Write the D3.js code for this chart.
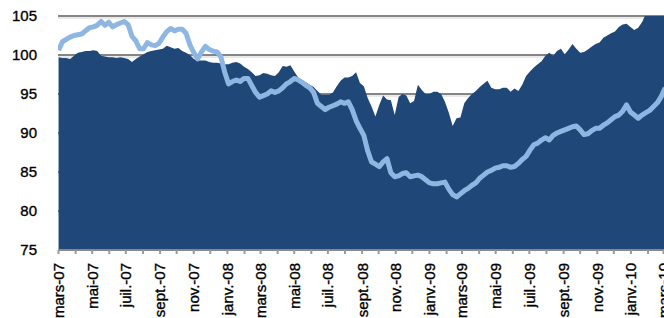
<!DOCTYPE html>
<html>
<head>
<meta charset="utf-8">
<script src="https://cdn.jsdelivr.net/npm/d3@7"></script>
<style>
  body { margin: 0; background: #fff; }
  svg { display: block; font-family: "Liberation Sans", Arial, sans-serif; }
</style>
</head>
<body>
<svg id="chart" width="664" height="318"></svg>
<script>
// weekly observations, first one on 2 March 2007
var startDate = new Date(2007, 2, 2);

// dark area series
var areaValues = [
  99.7, 99.6, 99.6, 99.5, 99.9, 100.3, 100.4, 100.5, 100.5, 100.6,
  100.5, 99.9, 99.8, 99.7, 99.7, 99.6, 99.7, 99.6, 99.5, 99.1,
  99.5, 99.8, 100.1, 100.4, 100.5, 100.6, 100.7, 100.8, 101.2, 101.0,
  100.8, 100.9, 100.5, 100.3, 100.0, 99.5, 99.3, 99.3, 99.3, 99.1,
  99.0, 99.0, 98.9, 98.8, 98.8, 99.0, 99.1, 98.9, 98.5, 98.2,
  97.8, 97.3, 97.4, 97.7, 97.6, 97.4, 97.3, 97.8, 98.6, 98.5,
  98.7, 97.9, 97.1, 96.8, 96.5, 96.2, 95.9, 95.4, 94.9, 94.9,
  94.9, 95.2, 96.0, 96.7, 97.1, 97.1, 97.3, 97.8, 96.4, 96.0,
  94.5, 93.4, 92.1, 93.6, 94.8, 94.3, 94.2, 92.3, 94.6, 95.0,
  94.8, 93.8, 94.1, 96.2, 95.5, 95.0, 95.0, 95.3, 95.3, 95.0,
  94.0, 92.6, 90.9, 91.9, 92.0, 93.8, 94.5, 95.0, 95.4, 95.9,
  96.3, 96.7, 95.8, 95.6, 95.6, 95.8, 95.8, 95.3, 95.7, 95.4,
  96.2, 97.3, 97.9, 98.4, 98.8, 99.2, 99.9, 100.3, 99.9, 100.5,
  100.8, 100.1, 100.7, 101.4, 100.8, 100.3, 100.4, 100.7, 101.1, 101.4,
  101.6, 102.2, 102.5, 102.8, 103.0, 103.6, 103.9, 104.0, 103.6, 103.2,
  103.5, 104.2, 105.3, 105.6, 105.8, 106.0, 106.2, 106.3
];

// light blue line series
var lineValues = [
  100.6, 101.7, 102.0, 102.3, 102.5, 102.6, 102.7, 103.1, 103.5, 103.6,
  103.8, 104.3, 103.8, 104.2, 103.6, 103.9, 104.1, 104.3, 103.9, 102.4,
  101.8, 100.8, 100.8, 101.6, 101.3, 101.2, 101.5, 102.3, 103.0, 103.4,
  103.1, 103.3, 103.3, 102.8, 101.3, 100.3, 99.5, 100.4, 101.1, 100.7,
  100.5, 100.4, 99.8, 97.8, 96.3, 96.6, 96.8, 96.6, 97.0, 97.0,
  96.1, 95.2, 94.6, 94.8, 95.0, 95.4, 95.2, 95.4, 95.8, 96.3,
  96.6, 97.0, 96.8, 96.5, 96.1, 95.8, 95.2, 93.8, 93.4, 93.0,
  93.3, 93.5, 93.7, 94.0, 93.8, 94.0, 93.0, 91.6, 90.6, 89.7,
  87.7, 86.3, 86.0, 85.7, 86.3, 86.7, 84.9, 84.4, 84.5, 84.8,
  84.9, 84.4, 84.5, 84.6, 84.4, 84.0, 83.6, 83.5, 83.5, 83.6,
  83.7, 82.8, 82.1, 81.8, 82.2, 82.6, 82.9, 83.3, 83.6, 84.2,
  84.6, 85.0, 85.2, 85.5, 85.6, 85.8, 85.8, 85.6, 85.7, 86.1,
  86.6, 87.0, 87.8, 88.5, 88.7, 89.1, 89.4, 89.1, 89.7, 90.0,
  90.2, 90.4, 90.6, 90.8, 90.9, 90.4, 89.8, 89.9, 90.3, 90.6,
  90.6, 91.0, 91.3, 91.7, 92.1, 92.3, 92.8, 93.6, 92.7, 92.3,
  91.9, 92.3, 92.6, 92.9, 93.4, 93.9, 94.7, 95.8
];

var yTicks = [75, 80, 85, 90, 95, 100, 105];
var monthNames = ["janv.", "févr.", "mars", "avr.", "mai", "juin",
                  "juil.", "août", "sept.", "oct.", "nov.", "déc."];

var plotLeft = 58;
var plotRight = 663;
var plotTop = 16;
var plotBottom = 250;
var areaColor = "#1f4878";
var lineColor = "#8db6e3";

var svg = d3.select("#chart");

var rows = areaValues.map(function (v, i) {
    return { date: d3.timeDay.offset(startDate, 7 * i), a: v, b: lineValues[i] };
});

var x = d3.scaleTime()
    .domain([new Date(2007, 2, 1), new Date(2010, 2, 1)])
    .range([plotLeft, plotRight]);

var y = d3.scaleLinear()
    .domain([75, 105])
    .range([plotBottom, plotTop]);

// clip anything above 105 like the original
svg.append("clipPath").attr("id", "plotClip")
    .append("rect")
    .attr("x", plotLeft).attr("y", plotTop)
    .attr("width", 664 - plotLeft).attr("height", plotBottom - plotTop);

// grid lines (behind the area), dark line with a faint shadow below
svg.append("g")
    .selectAll("line")
    .data(yTicks.slice(1))
    .enter().append("line")
    .attr("x1", plotLeft).attr("x2", 664)
    .attr("y1", function (d) { return y(d); })
    .attr("y2", function (d) { return y(d); })
    .attr("stroke", "#858585")
    .attr("stroke-width", 2);
svg.append("g")
    .selectAll("line")
    .data(yTicks.slice(1))
    .enter().append("line")
    .attr("x1", plotLeft).attr("x2", 664)
    .attr("y1", function (d) { return y(d) + 2; })
    .attr("y2", function (d) { return y(d) + 2; })
    .attr("stroke", "#d4d4d4")
    .attr("stroke-width", 1);

var plot = svg.append("g").attr("clip-path", "url(#plotClip)");

plot.append("path")
    .datum(rows)
    .attr("fill", areaColor)
    .attr("d", d3.area()
        .x(function (d) { return x(d.date); })
        .y0(y(75))
        .y1(function (d) { return y(d.a); }));

plot.append("path")
    .datum(rows)
    .attr("fill", "none")
    .attr("stroke", lineColor)
    .attr("stroke-width", 5)
    .attr("stroke-linejoin", "round")
    .attr("d", d3.line()
        .x(function (d) { return x(d.date); })
        .y(function (d) { return y(d.b); }));

// y labels
svg.append("g")
    .selectAll("text")
    .data(yTicks)
    .enter().append("text")
    .attr("x", 37)
    .attr("y", function (d) { return y(d); })
    .attr("dy", "0.36em")
    .attr("text-anchor", "end")
    .attr("font-size", 15)
    .attr("fill", "#000")
    .attr("stroke", "#000")
    .attr("stroke-width", 0.35)
    .text(function (d) { return d; });

// x axis with monthly ticks, label every second month
var xAxis = d3.axisBottom(x)
    .ticks(d3.timeMonth.every(1))
    .tickSize(4)
    .tickFormat(function (d, i) {
        if (i % 2 != 0) return "";
        return monthNames[d.getMonth()] + "-" + d3.timeFormat("%y")(d);
    });

var gx = svg.append("g")
    .attr("transform", "translate(0," + plotBottom + ")")
    .call(xAxis);
gx.select(".domain").attr("stroke", "#888").attr("stroke-width", 2)
    .attr("d", "M" + plotLeft + ",0H664");
gx.selectAll(".tick line").attr("stroke", "#999").attr("stroke-width", 2);
gx.selectAll(".tick text")
    .attr("font-size", 15)
    .attr("font-family", "Liberation Sans, Arial, sans-serif")
    .attr("fill", "#000")
    .attr("stroke", "#000")
    .attr("stroke-width", 0.35)
    .attr("text-anchor", "end")
    .attr("transform", "rotate(-90)")
    .attr("x", -13)
    .attr("y", 0)
    .attr("dy", "0.36em");
</script>
</body>
</html>
